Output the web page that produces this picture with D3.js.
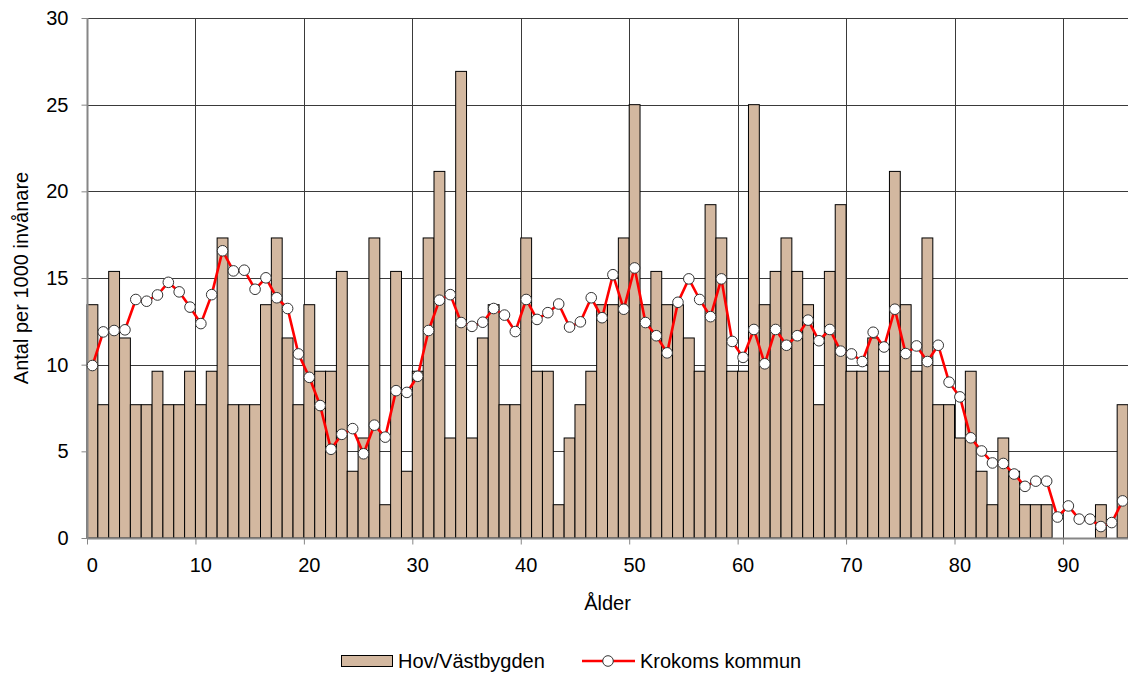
<!DOCTYPE html>
<html lang="sv">
<head>
  <meta charset="UTF-8">
  <title>Antal per 1000 invånare efter ålder</title>
  <script src="https://d3js.org/d3.v7.min.js"></script>
  <style>
    body {
      margin: 0;
      overflow: hidden;
      background: #fff;
      font-family: 'Liberation Sans', Arial, sans-serif;
    }
    svg { display: block; }
    .tick text { font-size: 20px; fill: #000; }
    .axis path { stroke: #868686; stroke-width: 2px; }
    .axis line { stroke: #868686; }
    .grid line { stroke: #3a3a3a; stroke-width: 1px; }
    .bar { fill: #d3b8a0; stroke: #000; stroke-width: 1px; }
    .title { font-size: 20px; fill: #000; }
    .legend text { font-size: 20px; fill: #000; }
  </style>
</head>
<body>
<svg width="1128" height="673"></svg>
<script>
  // ålder 0..95
  const ages = d3.range(0, 96);

  // Hov/Västbygden, antal per 1000 invånare
  const hov = [
    13.46, 7.69, 15.38, 11.54, 7.69, 7.69, 9.62, 7.69, 7.69, 9.62,
    7.69, 9.62, 17.31, 7.69, 7.69, 7.69, 13.46, 17.31, 11.54, 7.69,
    13.46, 9.62, 9.62, 15.38, 3.85, 5.77, 17.31, 1.92, 15.38, 3.85,
    9.62, 17.31, 21.15, 5.77, 26.92, 5.77, 11.54, 13.46, 7.69, 7.69,
    17.31, 9.62, 9.62, 1.92, 5.77, 7.69, 9.62, 13.46, 13.46, 17.31,
    25.0, 13.46, 15.38, 13.46, 13.46, 11.54, 9.62, 19.23, 17.31, 9.62,
    9.62, 25.0, 13.46, 15.38, 17.31, 15.38, 13.46, 7.69, 15.38, 19.23,
    9.62, 9.62, 11.54, 9.62, 21.15, 13.46, 9.62, 17.31, 7.69, 7.69,
    5.77, 9.62, 3.85, 1.92, 5.77, 3.85, 1.92, 1.92, 1.92, 0,
    0, 0, 0, 1.92, 0, 7.69
  ];

  // Krokoms kommun
  const krokom = [
    9.95, 11.89, 11.97, 12.01, 13.76, 13.66, 14.02, 14.75, 14.2, 13.32,
    12.37, 14.04, 16.57, 15.41, 15.45, 14.35, 15.01, 13.86, 13.24, 10.62,
    9.27, 7.64, 5.12, 5.98, 6.31, 4.86, 6.51, 5.82, 8.5, 8.4,
    9.33, 11.97, 13.72, 14.04, 12.43, 12.21, 12.45, 13.24, 12.86, 11.91,
    13.76, 12.61, 13.0, 13.5, 12.17, 12.47, 13.86, 12.71, 15.19, 13.2,
    15.58, 12.43, 11.67, 10.68, 13.6, 14.95, 13.76, 12.77, 14.95, 11.34,
    10.42, 12.03, 10.05, 12.03, 11.12, 11.67, 12.57, 11.38, 12.03, 10.78,
    10.62, 10.18, 11.87, 11.02, 13.2, 10.64, 11.08, 10.18, 11.12, 8.99,
    8.14, 5.78, 5.02, 4.33, 4.3, 3.69, 2.98, 3.28, 3.28, 1.21,
    1.85, 1.09, 1.09, 0.66, 0.89, 2.14
  ];

  const yTicks = [0, 5, 10, 15, 20, 25, 30];
  const xLabels = [0, 10, 20, 30, 40, 50, 60, 70, 80, 90];

  const mLeft = 87, mRight = 1128, mTop = 18, mBottom = 538;

  const svg = d3.select("svg");

  const x = d3.scaleBand().domain(ages).range([mLeft, mRight]).padding(0);
  // kontinuerlig skala för kategorigränser (gridlinjer och tickmarkeringar)
  const xEdge = d3.scaleLinear().domain([-0.5, 95.5]).range([mLeft, mRight]);
  const y = d3.scaleLinear().domain([0, 30]).range([mBottom, mTop]);

  // gridlinjer
  const grid = svg.append("g").attr("class", "grid");
  grid.selectAll("line.h")
          .data(yTicks.filter(d => d > 0))
          .join("line")
          .attr("class", "h")
          .attr("x1", mLeft).attr("x2", mRight)
          .attr("y1", d => Math.round(y(d)) + 0.5)
          .attr("y2", d => Math.round(y(d)) + 0.5);
  grid.selectAll("line.v")
          .data(xLabels.slice(1).map(d => d - 0.5))
          .join("line")
          .attr("class", "v")
          .attr("x1", d => Math.round(xEdge(d)) + 0.5)
          .attr("x2", d => Math.round(xEdge(d)) + 0.5)
          .attr("y1", mTop).attr("y2", mBottom);

  // staplar
  svg.append("g")
          .selectAll("rect")
          .data(ages.filter(a => hov[a] > 0))
          .join("rect")
          .attr("class", "bar")
          .attr("x", a => x(a))
          .attr("width", x.bandwidth())
          .attr("y", a => y(hov[a]))
          .attr("height", a => mBottom - y(hov[a]));

  // axlar
  svg.append("g")
          .attr("class", "axis")
          .attr("transform", `translate(${mLeft + 0.5},0)`)
          .call(d3.axisLeft(y).tickValues(yTicks).tickSize(6).tickPadding(13))
          .call(g => g.select(".domain").attr("d", `M0,${mTop}V${mBottom}`));

  svg.append("g")
          .attr("class", "axis")
          .attr("transform", `translate(0,${mBottom + 0.5})`)
          .call(d3.axisBottom(xEdge).tickValues(xLabels.map(d => d - 0.5)).tickSize(6).tickFormat(""))
          .call(g => g.select(".domain").attr("d", `M${mLeft},0H${mRight}`));

  svg.append("g")
          .attr("transform", `translate(0,${mBottom})`)
          .call(d3.axisBottom(x).tickValues(xLabels).tickSize(0).tickPadding(20))
          .call(g => g.select(".domain").remove());

  // linje
  const line = d3.line()
          .x((d, i) => x(ages[i]) + x.bandwidth() / 2)
          .y(d => y(d));

  svg.append("path")
          .datum(krokom)
          .attr("fill", "none")
          .attr("stroke", "#ff0000")
          .attr("stroke-width", 2.6)
          .attr("stroke-linejoin", "round")
          .attr("d", line);

  svg.append("g")
          .selectAll("circle")
          .data(krokom)
          .join("circle")
          .attr("cx", (d, i) => x(ages[i]) + x.bandwidth() / 2)
          .attr("cy", d => y(d))
          .attr("r", 5.3)
          .attr("fill", "#fff")
          .attr("stroke", "#333")
          .attr("stroke-width", 1);

  // axeltitlar
  svg.append("text")
          .attr("class", "title")
          .attr("x", (mLeft + mRight) / 2)
          .attr("y", 610)
          .attr("text-anchor", "middle")
          .text("Ålder");

  svg.append("text")
          .attr("class", "title")
          .attr("transform", `translate(28,${(mTop + mBottom) / 2}) rotate(-90)`)
          .attr("text-anchor", "middle")
          .text("Antal per 1000 invånare");

  // teckenförklaring
  const legend = svg.append("g").attr("class", "legend");
  legend.append("rect")
          .attr("x", 341.5).attr("y", 655.5)
          .attr("width", 51).attr("height", 11)
          .attr("class", "bar");
  legend.append("text")
          .attr("x", 398).attr("y", 668)
          .text("Hov/Västbygden");
  legend.append("line")
          .attr("x1", 582).attr("x2", 635)
          .attr("y1", 661).attr("y2", 661)
          .attr("stroke", "#ff0000").attr("stroke-width", 2.6);
  legend.append("circle")
          .attr("cx", 608).attr("cy", 661).attr("r", 5.3)
          .attr("fill", "#fff").attr("stroke", "#333");
  legend.append("text")
          .attr("x", 640).attr("y", 668)
          .text("Krokoms kommun");
</script>
</body>
</html>
